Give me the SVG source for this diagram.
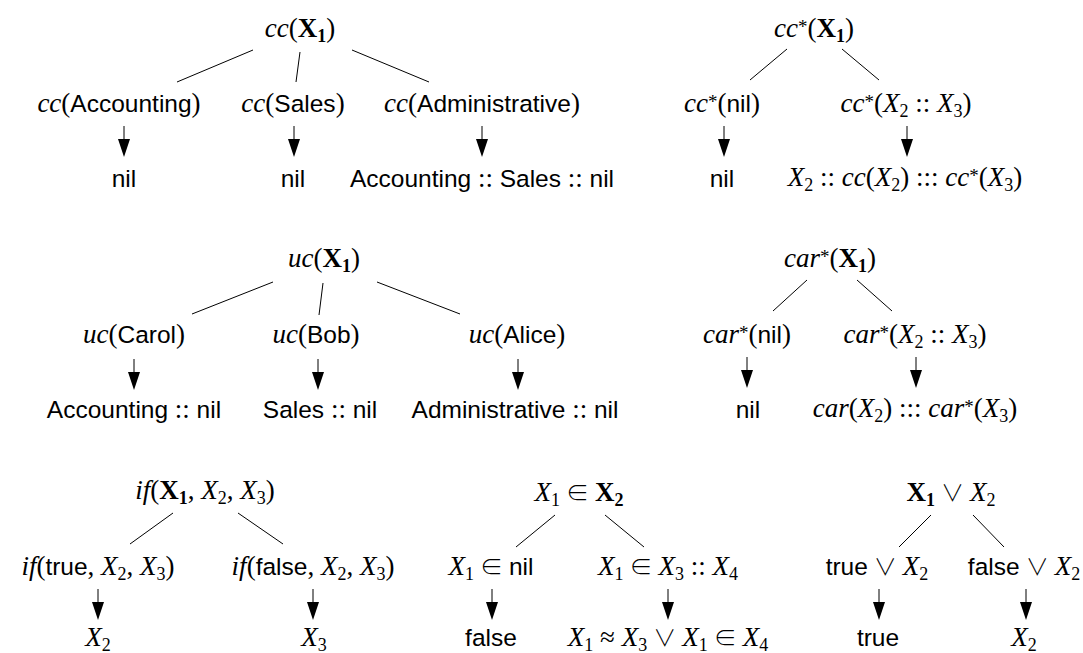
<svg xmlns="http://www.w3.org/2000/svg" xmlns:xlink="http://www.w3.org/1999/xlink" width="1083" height="653" viewBox="0 0 1083 653">
<style>
text { font-family: "Liberation Serif", serif; font-size: 27px; fill: #000; text-anchor: middle; }
.i { font-style: italic; }
.b { font-weight: bold; }
.s { font-family: "Liberation Sans", sans-serif; font-size: 24.5px; }
.sub { font-size: 18px; }
.sup { font-size: 19px; }
.y { font-family: "Noto Sans CJK JP", "DejaVu Sans", sans-serif; font-size: 23px; font-weight: 300; }
line { stroke: #000; stroke-width: 1; }
</style>
<defs>
<g id="arr"><line x1="0" y1="0" x2="0" y2="14"/><polygon points="-6,13 6,13 0,31" fill="#000"/></g>
</defs>
<rect width="1083" height="653" fill="#fff"/>

<g id="connectors">
<line x1="253" y1="50" x2="177" y2="82"/>
<line x1="300" y1="52" x2="296" y2="82"/>
<line x1="352" y1="50" x2="429" y2="82"/>
<use xlink:href="#arr" x="124" y="126"/>
<use xlink:href="#arr" x="294" y="126"/>
<use xlink:href="#arr" x="482" y="126"/>

<line x1="787" y1="49" x2="750" y2="80"/>
<line x1="842" y1="49" x2="879" y2="80"/>
<use xlink:href="#arr" x="724" y="126"/>
<use xlink:href="#arr" x="907" y="126"/>

<line x1="273" y1="282" x2="192" y2="314"/>
<line x1="323" y1="283" x2="319" y2="315"/>
<line x1="377" y1="282" x2="460" y2="314"/>
<use xlink:href="#arr" x="134" y="359"/>
<use xlink:href="#arr" x="318" y="359"/>
<use xlink:href="#arr" x="518" y="359"/>

<line x1="807" y1="280" x2="773" y2="311"/>
<line x1="857" y1="280" x2="892" y2="311"/>
<use xlink:href="#arr" x="747" y="357"/>
<use xlink:href="#arr" x="916" y="357"/>

<line x1="173" y1="513" x2="130" y2="544"/>
<line x1="238" y1="513" x2="283" y2="544"/>
<use xlink:href="#arr" x="98" y="589"/>
<use xlink:href="#arr" x="313" y="589"/>

<line x1="555" y1="515" x2="516" y2="547"/>
<line x1="605" y1="515" x2="644" y2="547"/>
<use xlink:href="#arr" x="492" y="589"/>
<use xlink:href="#arr" x="668" y="589"/>

<line x1="931" y1="515" x2="899" y2="547"/>
<line x1="973" y1="515" x2="1004" y2="547"/>
<use xlink:href="#arr" x="879" y="589"/>
<use xlink:href="#arr" x="1026" y="589"/>
</g>

<g id="tree-cc">
<text x="300" y="37"><tspan class="i">cc</tspan>(<tspan class="b">X</tspan><tspan class="b sub" dy="5">1</tspan><tspan dy="-5">)</tspan></text>
<text x="119" y="112"><tspan class="i">cc</tspan>(<tspan class="s">Accounting</tspan>)</text>
<text x="293" y="112"><tspan class="i">cc</tspan>(<tspan class="s">Sales</tspan>)</text>
<text x="482" y="112"><tspan class="i">cc</tspan>(<tspan class="s">Administrative</tspan>)</text>
<text x="124" y="187" class="s">nil</text>
<text x="293" y="187" class="s">nil</text>
<text x="482" y="187"><tspan class="s">Accounting</tspan> :: <tspan class="s">Sales</tspan> :: <tspan class="s">nil</tspan></text>
</g>

<g id="tree-ccstar">
<text x="814" y="37"><tspan class="i">cc</tspan><tspan class="sup" dy="-4">*</tspan><tspan dy="4">(</tspan><tspan class="b">X</tspan><tspan class="b sub" dy="5">1</tspan><tspan dy="-5">)</tspan></text>
<text x="722" y="112"><tspan class="i">cc</tspan><tspan class="sup" dy="-4">*</tspan><tspan dy="4">(</tspan><tspan class="s">nil</tspan>)</text>
<text x="906" y="112"><tspan class="i">cc</tspan><tspan class="sup" dy="-4">*</tspan><tspan dy="4">(</tspan><tspan class="i">X</tspan><tspan class="sub" dy="5">2</tspan><tspan dy="-5"> :: </tspan><tspan class="i">X</tspan><tspan class="sub" dy="5">3</tspan><tspan dy="-5">)</tspan></text>
<text x="722" y="187" class="s">nil</text>
<text x="905" y="186"><tspan class="i">X</tspan><tspan class="sub" dy="5">2</tspan><tspan dy="-5"> :: </tspan><tspan class="i">cc</tspan>(<tspan class="i">X</tspan><tspan class="sub" dy="5">2</tspan><tspan dy="-5">) ::: </tspan><tspan class="i">cc</tspan><tspan class="sup" dy="-4">*</tspan><tspan dy="4">(</tspan><tspan class="i">X</tspan><tspan class="sub" dy="5">3</tspan><tspan dy="-5">)</tspan></text>
</g>

<g id="tree-uc">
<text x="324" y="267"><tspan class="i">uc</tspan>(<tspan class="b">X</tspan><tspan class="b sub" dy="5">1</tspan><tspan dy="-5">)</tspan></text>
<text x="134" y="343"><tspan class="i">uc</tspan>(<tspan class="s">Carol</tspan>)</text>
<text x="316" y="343"><tspan class="i">uc</tspan>(<tspan class="s">Bob</tspan>)</text>
<text x="517" y="343"><tspan class="i">uc</tspan>(<tspan class="s">Alice</tspan>)</text>
<text x="134" y="418"><tspan class="s">Accounting</tspan> :: <tspan class="s">nil</tspan></text>
<text x="320" y="418"><tspan class="s">Sales</tspan> :: <tspan class="s">nil</tspan></text>
<text x="515" y="418"><tspan class="s">Administrative</tspan> :: <tspan class="s">nil</tspan></text>
</g>

<g id="tree-carstar">
<text x="830" y="267"><tspan class="i">car</tspan><tspan class="sup" dy="-4">*</tspan><tspan dy="4">(</tspan><tspan class="b">X</tspan><tspan class="b sub" dy="5">1</tspan><tspan dy="-5">)</tspan></text>
<text x="747" y="343"><tspan class="i">car</tspan><tspan class="sup" dy="-4">*</tspan><tspan dy="4">(</tspan><tspan class="s">nil</tspan>)</text>
<text x="915" y="343"><tspan class="i">car</tspan><tspan class="sup" dy="-4">*</tspan><tspan dy="4">(</tspan><tspan class="i">X</tspan><tspan class="sub" dy="5">2</tspan><tspan dy="-5"> :: </tspan><tspan class="i">X</tspan><tspan class="sub" dy="5">3</tspan><tspan dy="-5">)</tspan></text>
<text x="748" y="418" class="s">nil</text>
<text x="915" y="417"><tspan class="i">car</tspan>(<tspan class="i">X</tspan><tspan class="sub" dy="5">2</tspan><tspan dy="-5">) ::: </tspan><tspan class="i">car</tspan><tspan class="sup" dy="-4">*</tspan><tspan dy="4">(</tspan><tspan class="i">X</tspan><tspan class="sub" dy="5">3</tspan><tspan dy="-5">)</tspan></text>
</g>

<g id="tree-if">
<text x="205" y="499"><tspan class="i">if</tspan>(<tspan class="b">X</tspan><tspan class="b sub" dy="5">1</tspan><tspan dy="-5">, </tspan><tspan class="i">X</tspan><tspan class="sub" dy="5">2</tspan><tspan dy="-5">, </tspan><tspan class="i">X</tspan><tspan class="sub" dy="5">3</tspan><tspan dy="-5">)</tspan></text>
<text x="98" y="575"><tspan class="i">if</tspan>(<tspan class="s">true</tspan>, <tspan class="i">X</tspan><tspan class="sub" dy="5">2</tspan><tspan dy="-5">, </tspan><tspan class="i">X</tspan><tspan class="sub" dy="5">3</tspan><tspan dy="-5">)</tspan></text>
<text x="313" y="575"><tspan class="i">if</tspan>(<tspan class="s">false</tspan>, <tspan class="i">X</tspan><tspan class="sub" dy="5">2</tspan><tspan dy="-5">, </tspan><tspan class="i">X</tspan><tspan class="sub" dy="5">3</tspan><tspan dy="-5">)</tspan></text>
<text x="98" y="646"><tspan class="i">X</tspan><tspan class="sub" dy="5">2</tspan></text>
<text x="314" y="646"><tspan class="i">X</tspan><tspan class="sub" dy="5">3</tspan></text>
</g>

<g id="tree-member">
<text x="579" y="501"><tspan class="i">X</tspan><tspan class="sub" dy="5">1</tspan><tspan class="y" dy="-5" dx="6">∈</tspan><tspan class="b" dx="6">X</tspan><tspan class="b sub" dy="5">2</tspan></text>
<text x="491" y="575"><tspan class="i">X</tspan><tspan class="sub" dy="5">1</tspan><tspan class="y" dy="-5" dx="6">∈</tspan><tspan class="s" dx="6">nil</tspan></text>
<text x="668" y="575"><tspan class="i">X</tspan><tspan class="sub" dy="5">1</tspan><tspan class="y" dy="-5" dx="6">∈</tspan><tspan class="i" dx="6">X</tspan><tspan class="sub" dy="5">3</tspan><tspan dy="-5"> :: </tspan><tspan class="i">X</tspan><tspan class="sub" dy="5">4</tspan></text>
<text x="491" y="646" class="s">false</text>
<text x="668" y="646"><tspan class="i">X</tspan><tspan class="sub" dy="5">1</tspan><tspan dy="-5"> ≈ </tspan><tspan class="i">X</tspan><tspan class="sub" dy="5">3</tspan><tspan class="y" dy="-5" dx="6">∨</tspan><tspan class="i" dx="6">X</tspan><tspan class="sub" dy="5">1</tspan><tspan class="y" dy="-5" dx="6">∈</tspan><tspan class="i" dx="6">X</tspan><tspan class="sub" dy="5">4</tspan></text>
</g>

<g id="tree-or">
<text x="951" y="501"><tspan class="b">X</tspan><tspan class="b sub" dy="5">1</tspan><tspan class="y" dy="-5" dx="6">∨</tspan><tspan class="i" dx="6">X</tspan><tspan class="sub" dy="5">2</tspan></text>
<text x="877" y="575"><tspan class="s">true</tspan><tspan class="y" dx="6">∨</tspan><tspan class="i" dx="6">X</tspan><tspan class="sub" dy="5">2</tspan></text>
<text x="1024" y="575"><tspan class="s">false</tspan><tspan class="y" dx="6">∨</tspan><tspan class="i" dx="6">X</tspan><tspan class="sub" dy="5">2</tspan></text>
<text x="878" y="646" class="s">true</text>
<text x="1024" y="646"><tspan class="i">X</tspan><tspan class="sub" dy="5">2</tspan></text>
</g>
</svg>
